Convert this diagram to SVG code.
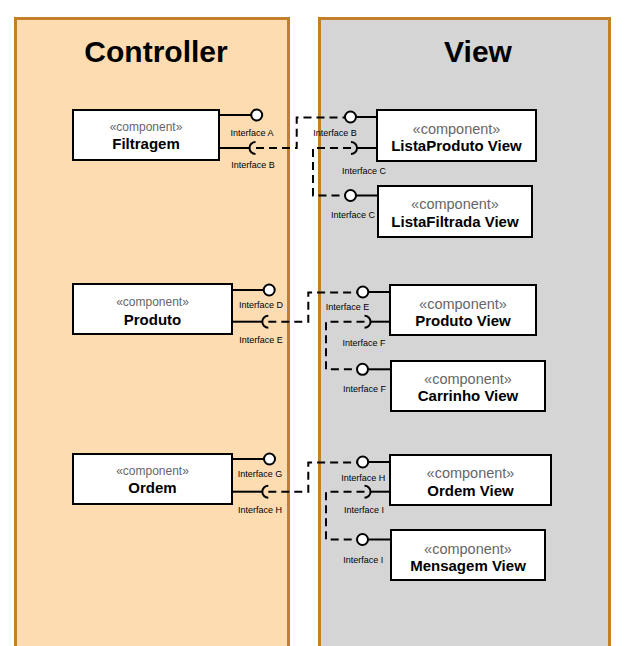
<svg xmlns="http://www.w3.org/2000/svg" width="631" height="646" viewBox="0 0 631 646">
<style>
.lane-c{fill:#FCDCB0;stroke:#C47F2B;stroke-width:3}
.lane-v{fill:#D5D5D5;stroke:#C47F2B;stroke-width:3}
.title{font-family:"Liberation Sans",Arial,sans-serif;font-weight:bold;font-size:30px;text-anchor:middle;fill:#000}
.box{fill:#fff;stroke:#000;stroke-width:2}
.st{font-family:"Liberation Sans",Arial,sans-serif;fill:#666;text-anchor:middle}
.stc{font-size:12px}
.stv{font-size:14.5px}
.nm{font-family:"Liberation Sans",Arial,sans-serif;font-weight:bold;font-size:15px;text-anchor:middle;fill:#000}
.if{font-family:"Liberation Sans",Arial,sans-serif;font-size:9px;text-anchor:middle;fill:#000}
.ln{stroke:#000;stroke-width:2;fill:none}
.ball{fill:#fff;stroke:#000;stroke-width:2}
.sock{fill:none;stroke:#000;stroke-width:2}
.dash{fill:none;stroke:#000;stroke-width:2;stroke-dasharray:8 5}
</style>

<g id="lane-controller">
<rect class="lane-c" x="15.5" y="18.5" width="273" height="640"/>
<text class="title" x="156" y="62">Controller</text>
</g>
<g id="lane-view">
<rect class="lane-v" x="319.5" y="18.5" width="290" height="640"/>
<text class="title" x="478" y="62">View</text>
</g>

<g id="connectors">
<path class="dash" d="M256,148 H296.7 V117.5 H345"/>
<path class="dash" d="M351,148 H313 V195.5 H345"/>
<path class="dash" d="M268.3,321.7 H308.3 V292.5 H357.3"/>
<path class="dash" d="M364.5,321.7 H326 V369.3 H357"/>
<path class="dash" d="M268.3,491.7 H308.3 V462.5 H357.2"/>
<path class="dash" d="M364.5,491.7 H326 V539.5 H357"/>
</g>

<g id="filtragem">
<rect class="box" x="73" y="110" width="146" height="50"/>
<text class="st stc" x="146" y="131">«component»</text>
<text class="nm" x="146" y="149">Filtragem</text>
<line class="ln" x1="219" y1="115" x2="251.2" y2="115"/>
<circle class="ball" cx="256.7" cy="115" r="5.5"/>
<text class="if" x="252" y="135.5">Interface A</text>
<line class="ln" x1="219" y1="148" x2="249.5" y2="148"/>
<path class="sock" d="M255.5,142 A6,6 0 0 0 255.5,154"/>
<text class="if" x="253" y="167.5">Interface B</text>
</g>

<g id="listaproduto-view">
<rect class="box" x="377" y="110" width="159" height="51"/>
<text class="st stv" x="456.5" y="133.5">«component»</text>
<text class="nm" x="456.5" y="151">ListaProduto View</text>
<line class="ln" x1="356" y1="117" x2="377" y2="117"/>
<circle class="ball" cx="350.5" cy="117" r="5.5"/>
<text class="if" x="335" y="136">Interface B</text>
<line class="ln" x1="357" y1="148" x2="377" y2="148"/>
<path class="sock" d="M351,142 A6,6 0 0 1 351,154"/>
<text class="if" x="364" y="174">Interface C</text>
</g>

<g id="listafiltrada-view">
<rect class="box" x="378" y="186" width="154" height="51"/>
<text class="st stv" x="455" y="208.5">«component»</text>
<text class="nm" x="455" y="227">ListaFiltrada View</text>
<line class="ln" x1="356" y1="195.5" x2="378" y2="195.5"/>
<circle class="ball" cx="350.5" cy="195.5" r="5.5"/>
<text class="if" x="353" y="217.5">Interface C</text>
</g>

<g id="produto">
<rect class="box" x="73" y="284" width="159" height="50"/>
<text class="st stc" x="152.5" y="306">«component»</text>
<text class="nm" x="152.5" y="324.5">Produto</text>
<line class="ln" x1="232" y1="290" x2="263.7" y2="290"/>
<circle class="ball" cx="269.2" cy="290" r="5.5"/>
<text class="if" x="261" y="307.5">Interface D</text>
<line class="ln" x1="232" y1="321.7" x2="262.3" y2="321.7"/>
<path class="sock" d="M268.3,315.7 A6,6 0 0 0 268.3,327.7"/>
<text class="if" x="261" y="343">Interface E</text>
</g>

<g id="produto-view">
<rect class="box" x="390" y="285" width="146" height="50"/>
<text class="st stv" x="463" y="308.5">«component»</text>
<text class="nm" x="463" y="326">Produto View</text>
<line class="ln" x1="368.3" y1="292" x2="390" y2="292"/>
<circle class="ball" cx="362.8" cy="292" r="5.5"/>
<text class="if" x="347.5" y="310">Interface E</text>
<line class="ln" x1="370.5" y1="321.7" x2="390" y2="321.7"/>
<path class="sock" d="M364.5,315.7 A6,6 0 0 1 364.5,327.7"/>
<text class="if" x="364" y="346">Interface F</text>
</g>

<g id="carrinho-view">
<rect class="box" x="391" y="361" width="154" height="50"/>
<text class="st stv" x="468" y="383.5">«component»</text>
<text class="nm" x="468" y="401">Carrinho View</text>
<line class="ln" x1="368" y1="369.3" x2="391" y2="369.3"/>
<circle class="ball" cx="362.5" cy="369.3" r="5.5"/>
<text class="if" x="364.5" y="391.5">Interface F</text>
</g>

<g id="ordem">
<rect class="box" x="73" y="454" width="159" height="50"/>
<text class="st stc" x="152.5" y="474.5">«component»</text>
<text class="nm" x="152.5" y="493">Ordem</text>
<line class="ln" x1="232" y1="459" x2="264" y2="459"/>
<circle class="ball" cx="269.5" cy="459" r="5.5"/>
<text class="if" x="260" y="477">Interface G</text>
<line class="ln" x1="232" y1="491.7" x2="262.3" y2="491.7"/>
<path class="sock" d="M268.3,485.7 A6,6 0 0 0 268.3,497.7"/>
<text class="if" x="260" y="512.5">Interface H</text>
</g>

<g id="ordem-view">
<rect class="box" x="390" y="455" width="161" height="50"/>
<text class="st stv" x="470.5" y="477.5">«component»</text>
<text class="nm" x="470.5" y="496">Ordem View</text>
<line class="ln" x1="368.2" y1="462" x2="390" y2="462"/>
<circle class="ball" cx="362.7" cy="462" r="5.5"/>
<text class="if" x="363.3" y="481">Interface H</text>
<line class="ln" x1="370.5" y1="491.7" x2="390" y2="491.7"/>
<path class="sock" d="M364.5,485.7 A6,6 0 0 1 364.5,497.7"/>
<text class="if" x="364" y="513">Interface I</text>
</g>

<g id="mensagem-view">
<rect class="box" x="391" y="530" width="154" height="50"/>
<text class="st stv" x="468" y="553.5">«component»</text>
<text class="nm" x="468" y="571">Mensagem View</text>
<line class="ln" x1="368" y1="539.5" x2="391" y2="539.5"/>
<circle class="ball" cx="362.5" cy="539.5" r="5.5"/>
<text class="if" x="363.3" y="562.5">Interface I</text>
</g>
</svg>
